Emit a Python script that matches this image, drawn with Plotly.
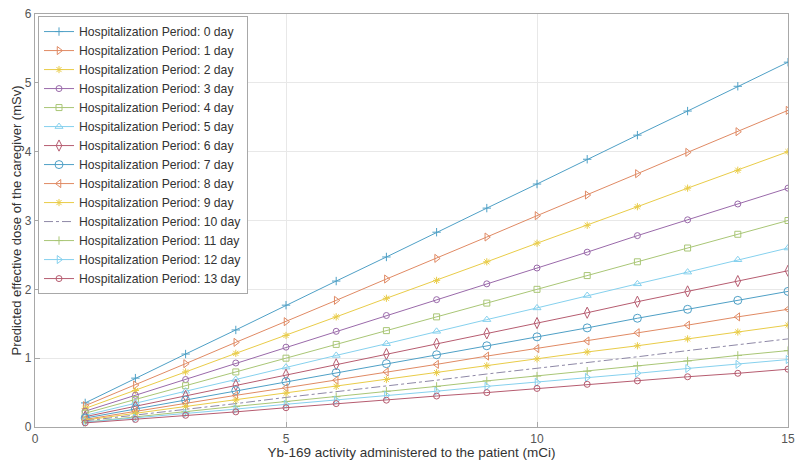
import plotly.graph_objects as go

activity = [1, 2, 3, 4, 5, 6, 7, 8, 9, 10, 11, 12, 13, 14, 15]

day0 = [0.35, 0.71, 1.06, 1.41, 1.77, 2.12, 2.47, 2.83, 3.18, 3.53, 3.89, 4.24, 4.59, 4.95, 5.30]
day1 = [0.31, 0.61, 0.92, 1.23, 1.53, 1.84, 2.15, 2.45, 2.76, 3.07, 3.37, 3.68, 3.99, 4.29, 4.60]
day2 = [0.27, 0.53, 0.80, 1.07, 1.33, 1.60, 1.87, 2.13, 2.40, 2.67, 2.93, 3.20, 3.47, 3.73, 4.00]
day3 = [0.23, 0.46, 0.69, 0.93, 1.16, 1.39, 1.62, 1.85, 2.08, 2.31, 2.54, 2.78, 3.01, 3.24, 3.47]
day4 = [0.20, 0.40, 0.60, 0.80, 1.00, 1.20, 1.40, 1.60, 1.80, 2.00, 2.20, 2.40, 2.60, 2.80, 3.00]
day5 = [0.17, 0.35, 0.52, 0.69, 0.87, 1.04, 1.21, 1.39, 1.56, 1.73, 1.91, 2.08, 2.25, 2.43, 2.60]
day6 = [0.15, 0.30, 0.45, 0.61, 0.76, 0.91, 1.06, 1.21, 1.36, 1.51, 1.66, 1.82, 1.97, 2.12, 2.27]
day7 = [0.13, 0.26, 0.39, 0.53, 0.66, 0.79, 0.92, 1.05, 1.18, 1.31, 1.44, 1.58, 1.71, 1.84, 1.97]
day8 = [0.11, 0.23, 0.34, 0.46, 0.57, 0.68, 0.80, 0.91, 1.03, 1.14, 1.25, 1.37, 1.48, 1.60, 1.71]
day9 = [0.10, 0.20, 0.30, 0.39, 0.49, 0.59, 0.69, 0.79, 0.89, 0.99, 1.09, 1.18, 1.28, 1.38, 1.48]
day10 = [0.09, 0.17, 0.26, 0.34, 0.43, 0.51, 0.60, 0.68, 0.77, 0.85, 0.94, 1.02, 1.11, 1.19, 1.28]
day11 = [0.07, 0.15, 0.22, 0.30, 0.37, 0.44, 0.52, 0.59, 0.67, 0.74, 0.81, 0.89, 0.96, 1.04, 1.11]
day12 = [0.07, 0.13, 0.20, 0.26, 0.33, 0.39, 0.46, 0.52, 0.59, 0.65, 0.72, 0.78, 0.85, 0.91, 0.98]
day13 = [0.06, 0.11, 0.17, 0.22, 0.28, 0.34, 0.39, 0.45, 0.50, 0.56, 0.62, 0.67, 0.73, 0.78, 0.84]

series = [day0, day1, day2, day3, day4, day5, day6, day7, day8, day9, day10, day11, day12, day13]
names = ["Hospitalization Period: %d day" % k for k in range(14)]

x_ticks = [0, 5, 10, 15]
y_ticks = [0, 1, 2, 3, 4, 5, 6]

palette = ["#4FA0C6", "#E08A64", "#E9CC48", "#9A6AAA", "#A9C676", "#86D1EE", "#B65C70"]
symbols = ["cross-thin-open", "triangle-right-open", "asterisk-open", "circle-open",
           "square-open", "triangle-up-open", "diamond-tall-open", "circle-open",
           "triangle-left-open", "asterisk-open", None, "cross-thin-open",
           "triangle-right-open", "circle-open"]
sizes = [6, 7, 6, 6, 6, 7, 8, 8, 7, 6, 0, 6, 7, 6]

fig = go.Figure()
for i, (ys, nm) in enumerate(zip(series, names)):
    col = palette[i % 7]
    if symbols[i] is None:
        fig.add_trace(go.Scatter(x=activity, y=ys, name=nm, mode="lines",
                                 line=dict(color="#8E88A6", width=1, dash="dashdot")))
    else:
        fig.add_trace(go.Scatter(x=activity, y=ys, name=nm, mode="lines+markers",
                                 line=dict(color=col, width=1),
                                 marker=dict(symbol=symbols[i], size=sizes[i],
                                             color=col, line=dict(color=col, width=1))))

axis_common = dict(showgrid=True, gridcolor="#E8E8E8", gridwidth=1,
                   showline=True, linecolor="#A8A8A8", linewidth=1.2, mirror=True,
                   ticks="inside", ticklen=5, tickcolor="#A8A8A8",
                   tickfont=dict(size=12, color="#555555"), zeroline=False,
                   automargin=False, ticklabeloverflow="allow")

# page body adds an 8px offset; margins compensate so the plot box lands
# at the same place as in the reference
fig.update_layout(
    width=810, height=465,
    margin=dict(l=27, r=30, t=6, b=46),
    paper_bgcolor="white", plot_bgcolor="white",
    font=dict(family="Liberation Sans, Arial, sans-serif", color="#444444"),
    xaxis=dict(range=[0, 15], tickvals=x_ticks,
               title=dict(text="Yb-169 activity administered to the patient (mCi)",
                          font=dict(size=13.5, color="#333333"), standoff=3),
               **axis_common),
    yaxis=dict(range=[0, 6], tickvals=y_ticks,
               title=dict(text="Predicted effective dose of the caregiver (mSv)",
                          font=dict(size=13, color="#333333"), standoff=0),
               **axis_common),
    legend=dict(x=0.004, y=0.995, xanchor="left", yanchor="top",
                bgcolor="white", bordercolor="#A8A8A8", borderwidth=1,
                font=dict(size=12.2, color="#333333"), itemwidth=30,
                tracegroupgap=0),
    showlegend=True,
)

fig.write_html("out.html")
